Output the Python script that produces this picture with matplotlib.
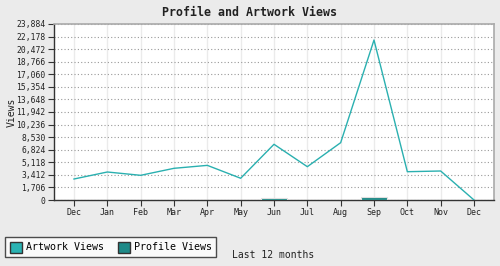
import matplotlib
matplotlib.use("Agg")
import matplotlib.pyplot as plt
from matplotlib.patches import Patch
import numpy as np

months = ["Dec", "Jan", "Feb", "Mar", "Apr", "May", "Jun", "Jul", "Aug", "Sep", "Oct", "Nov", "Dec"]
artwork_views = [2850, 3800, 3350, 4300, 4700, 2950, 7560, 4520, 7780, 21710, 3840, 3935, 0]
profile_views = [0, 0, 30, 0, 0, 0, 220, 0, 30, 420, 0, 0, 0]
yticks = [0, 1706, 3412, 5118, 6824, 8530, 10236, 11942, 13648, 15354, 17060, 18766, 20472, 22178, 23884]

plt.rcParams['font.family'] = ['DejaVu Sans Mono']

fig = plt.figure(figsize=(5.0, 2.66), dpi=100, facecolor="#ebebeb")
ax = fig.add_axes([54/500, 1 - 200/266, (494-54)/500, (200-24)/266])
ax.set_facecolor("white")

x = np.arange(len(months))
ax.bar(x, profile_views, width=0.78, color="#1f8a87", edgecolor="#e0e0e0", linewidth=0.8, zorder=3)
ax.plot(x, artwork_views, color="#2ab0b0", linewidth=1.0, zorder=4)

ax.set_xlim(-0.6, 12.6)
ax.set_ylim(0, 23884)
ax.set_xticks(x)
ax.set_xticklabels(months, fontsize=6)
ax.set_yticks(yticks)
ax.set_yticklabels([f"{v:,}" for v in yticks], fontsize=5.8)
ax.tick_params(axis="both", direction="out", length=4, width=0.8, color="#333333", pad=2, labelcolor="#222222")

ax.grid(axis="x", color="#ebebeb", linewidth=1.0, linestyle="-", zorder=0)
ax.grid(axis="y", color="#999999", linewidth=0.8, linestyle=(0, (1, 2)), zorder=1)
ax.set_axisbelow(True)

for s in ["left", "bottom"]:
    ax.spines[s].set_color("#333333")
    ax.spines[s].set_linewidth(1.0)
for s in ["top", "right"]:
    ax.spines[s].set_color("#aaaaaa")
    ax.spines[s].set_linewidth(1.2)

fig.text(0.5, 1 - 12/266, "Profile and Artwork Views", ha="center", va="center",
         fontsize=8.4, fontweight="bold", color="#222222")
fig.text(12/500, 1 - 112/266, "Views", rotation=90, ha="center", va="center", fontsize=7, color="#222222")
fig.text(273/500, 1 - 255/266, "Last 12 months", ha="center", va="center", fontsize=7, color="#222222")

handles = [Patch(facecolor="#2ab3b3", edgecolor="#333333", label="Artwork Views"),
           Patch(facecolor="#1e8a88", edgecolor="#333333", label="Profile Views")]
leg = fig.legend(handles=handles, loc="lower left", bbox_to_anchor=(5/500, 1 - 257/266), ncol=2,
                 fontsize=7.2, frameon=True, fancybox=False, edgecolor="#222222", facecolor="white",
                 handlelength=1.2, handleheight=1.3, handletextpad=0.4, columnspacing=1.4,
                 borderpad=0.45, borderaxespad=0)
leg.get_frame().set_linewidth(1.0)

fig.savefig("out.png", dpi=100, facecolor=fig.get_facecolor())
